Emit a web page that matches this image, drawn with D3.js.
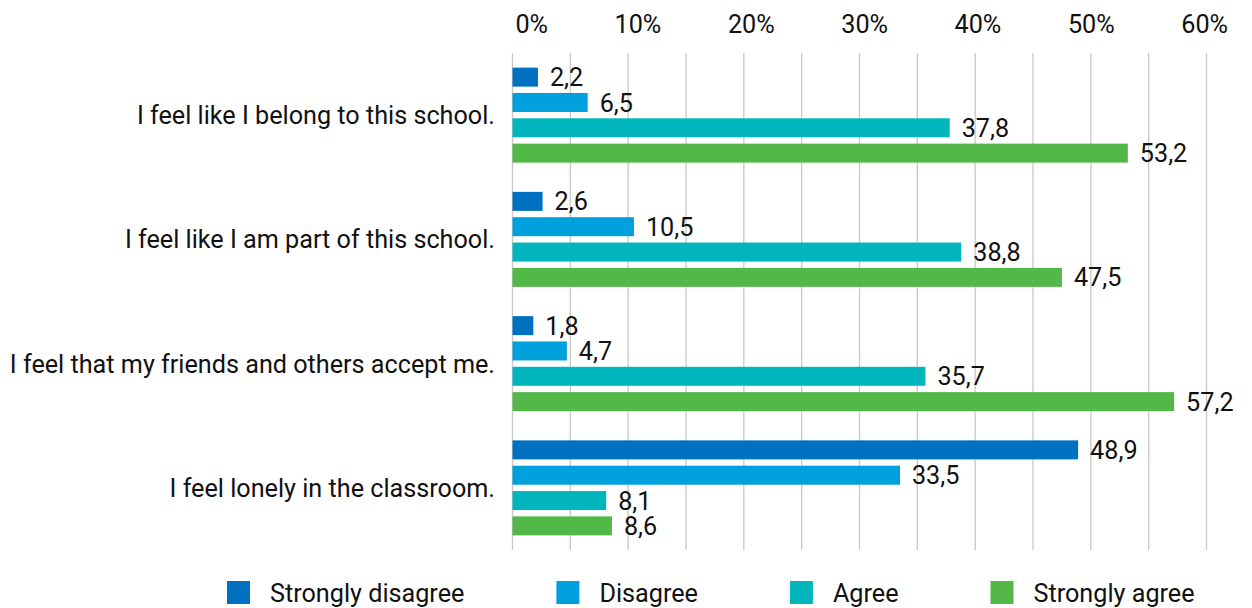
<!DOCTYPE html>
<html>
<head>
<meta charset="utf-8">
<script src="https://cdn.jsdelivr.net/npm/d3@7"></script>
<style>
  html, body { margin: 0; padding: 0; background: #ffffff; }
  svg { display: block; font-family: Roboto, "Noto Sans", sans-serif; }
</style>
</head>
<body>
<svg id="chart" width="1252" height="608"></svg>
<script>
// Survey statements (one group of bars each)
const categories = [
  "I feel like I belong to this school.",
  "I feel like I am part of this school.",
  "I feel that my friends and others accept me.",
  "I feel lonely in the classroom."
];
// Response options (one bar per statement)
const series = ["Strongly disagree", "Disagree", "Agree", "Strongly agree"];
// Share of answers in percent, per response option, in statement order
const stronglyDisagree = [2.2, 2.6, 1.8, 48.9];
const disagree         = [6.5, 10.5, 4.7, 33.5];
const agree            = [37.8, 38.8, 35.7, 8.1];
const stronglyAgree    = [53.2, 47.5, 57.2, 8.6];
const seriesValues = [stronglyDisagree, disagree, agree, stronglyAgree];
// Axis ticks (percent)
const tickValues = [0, 10, 20, 30, 40, 50, 60];
const gridValues = [0, 5, 10, 15, 20, 25, 30, 35, 40, 45, 50, 55, 60];

const colors = ["#0070C0", "#00A0DC", "#00B6BC", "#52B848"];
const textColor = "#111111";
const fontSize = 25.2;

const svg = d3.select("#chart");

// Scales
const x = d3.scaleLinear().domain([0, 60]).range([512.5, 1206.5]);
const xLabel = d3.scaleLinear().domain([0, 60]).range([548, 1228]);
const y = d3.scaleBand().domain(categories).range([53, 550])
  .paddingInner(0.2354).paddingOuter(0.1177);
const ySeries = d3.scaleBand().domain(series).range([0, y.bandwidth()])
  .paddingInner(0.25).paddingOuter(0);
const color = d3.scaleOrdinal().domain(series).range(colors);

// Vertical gridlines
svg.append("g").attr("class", "grid")
  .selectAll("line").data(gridValues).join("line")
  .attr("x1", d => x(d)).attr("x2", d => x(d))
  .attr("y1", 53).attr("y2", 550)
  .attr("stroke", "#c8c8c8").attr("stroke-width", 1.3);

// Top tick labels
svg.append("g").attr("class", "x-labels")
  .selectAll("text").data(tickValues).join("text")
  .attr("x", d => xLabel(d)).attr("y", 33)
  .attr("text-anchor", "end")
  .attr("font-size", fontSize).attr("fill", textColor)
  .text(d => d + "%");

// Rows of data: one entry per bar
const rows = [];
categories.forEach((c, i) => {
  series.forEach((s, j) => rows.push({ category: c, series: s, value: seriesValues[j][i] }));
});

// Bars
const groups = svg.append("g").attr("class", "bars");
groups.selectAll("rect").data(rows).join("rect")
  .attr("x", x(0))
  .attr("y", d => y(d.category) + ySeries(d.series))
  .attr("width", d => x(d.value) - x(0))
  .attr("height", ySeries.bandwidth())
  .attr("fill", d => color(d.series));

// Value labels (decimal comma)
svg.append("g").attr("class", "values")
  .selectAll("text").data(rows).join("text")
  .attr("x", d => x(d.value) + 12)
  .attr("y", d => y(d.category) + ySeries(d.series) + ySeries.bandwidth() / 2)
  .attr("dy", "0.36em")
  .attr("font-size", fontSize).attr("fill", textColor)
  .text(d => d.value.toFixed(1).replace(".", ","));

// Category labels
svg.append("g").attr("class", "categories")
  .selectAll("text").data(categories).join("text")
  .attr("x", 495)
  .attr("y", d => y(d) + y.bandwidth() / 2)
  .attr("dy", "0.36em")
  .attr("text-anchor", "end")
  .attr("font-size", fontSize).attr("fill", textColor)
  .text(d => d);

// Legend
const legend = svg.append("g").attr("class", "legend");
let lx = 227;
const sq = 23, ly = 581, itemGap = 92;
series.forEach(s => {
  legend.append("rect")
    .attr("x", lx).attr("y", ly).attr("width", sq).attr("height", sq)
    .attr("fill", color(s));
  const t = legend.append("text")
    .attr("x", lx + sq + 20).attr("y", ly + sq / 2)
    .attr("dy", "0.36em")
    .attr("font-size", fontSize).attr("fill", textColor)
    .text(s);
  lx += sq + 20 + t.node().getComputedTextLength() + itemGap;
});
</script>
</body>
</html>
